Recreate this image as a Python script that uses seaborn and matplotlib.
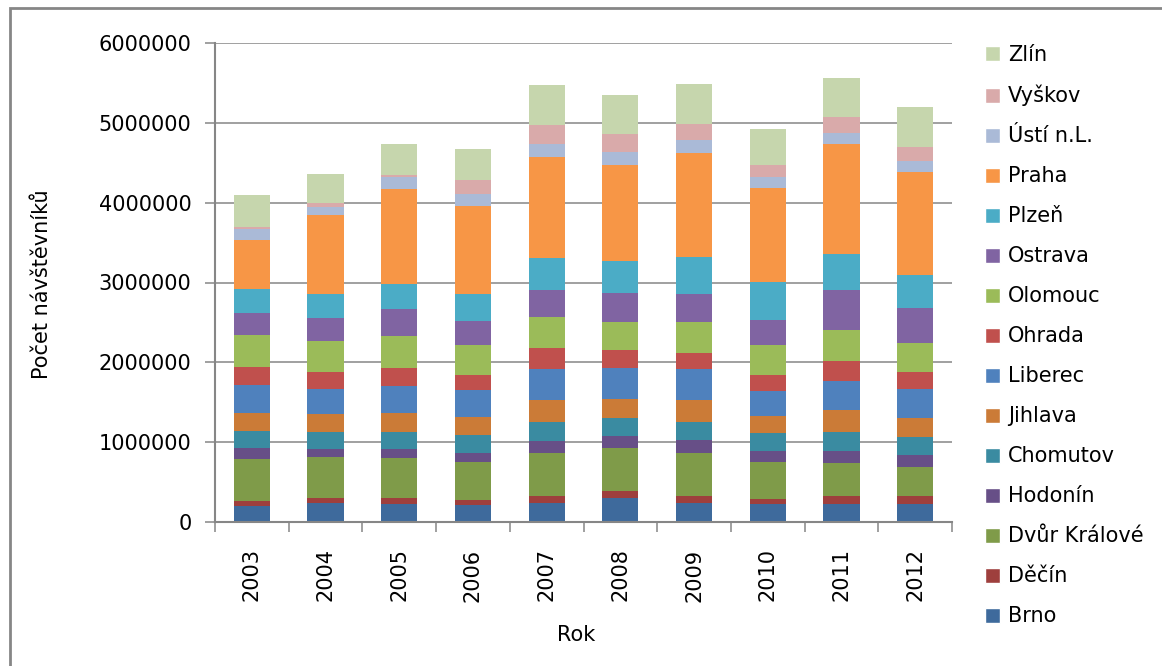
import numpy as np
import pandas as pd
import seaborn as sns
import matplotlib.pyplot as plt
from matplotlib.patches import Patch, Rectangle

# roky a mesta
roky = [str(r) for r in range(2003, 2013)]

brno = [204000, 238000, 230000, 213000, 238000, 301000, 238000, 226000, 226000, 226000]
decin = [59000, 63000, 71000, 63000, 88000, 88000, 88000, 62000, 100000, 100000]
dvur_kralove = [527000, 514000, 502000, 476000, 539000, 539000, 539000, 464000, 414000, 364000]
hodonin = [138000, 100000, 112000, 113000, 151000, 150000, 163000, 138000, 150000, 150000]
chomutov = [213000, 213000, 213000, 226000, 238000, 226000, 226000, 226000, 238000, 226000]
jihlava = [226000, 226000, 239000, 226000, 276000, 238000, 276000, 213000, 276000, 238000]
liberec = [351000, 314000, 338000, 338000, 388000, 389000, 388000, 314000, 364000, 364000]
ohrada = [226000, 213000, 226000, 188000, 264000, 226000, 201000, 200000, 251000, 213000]
olomouc = [401000, 389000, 401000, 376000, 389000, 351000, 389000, 376000, 389000, 364000]
ostrava = [276000, 288000, 339000, 301000, 338000, 363000, 351000, 314000, 501000, 438000]
plzen = [301000, 301000, 313000, 339000, 401000, 402000, 464000, 476000, 452000, 414000]
praha = [614000, 982000, 1191000, 1103000, 1267000, 1203000, 1304000, 1179000, 1379000, 1292000]
usti = [130000, 109000, 151000, 151000, 163000, 163000, 163000, 138000, 138000, 138000]
vyskov = [33000, 46000, 25000, 175000, 238000, 226000, 201000, 150000, 200000, 175000]
zlin = [401000, 368000, 389000, 389000, 502000, 489000, 501000, 452000, 489000, 502000]

mesta = ["Brno", "Děčín", "Dvůr Králové", "Hodonín", "Chomutov", "Jihlava", "Liberec",
         "Ohrada", "Olomouc", "Ostrava", "Plzeň", "Praha", "Ústí n.L.", "Vyškov", "Zlín"]
hodnoty = [brno, decin, dvur_kralove, hodonin, chomutov, jihlava, liberec,
           ohrada, olomouc, ostrava, plzen, praha, usti, vyskov, zlin]
barvy = ["#3E6A9C", "#9E3F3D", "#7F9B49", "#674F87", "#3A8BA1", "#CB7B37", "#4F81BD",
         "#C0504D", "#9BBB59", "#8064A2", "#4BACC6", "#F79646", "#AABAD7", "#D9AAAA", "#C6D6AD"]

df = pd.DataFrame(dict(zip(mesta, hodnoty)), index=roky)
kum = df.cumsum(axis=1)
kum["rok"] = roky

sns.set_style("white")
plt.rcParams["font.family"] = ["DejaVu Sans"]
plt.rcParams["text.color"] = "black"
plt.rcParams["axes.labelcolor"] = "black"
plt.rcParams["xtick.labelcolor"] = "black"
plt.rcParams["ytick.labelcolor"] = "black"
seda = "#868686"

fig = plt.figure(figsize=(11.62, 6.66), dpi=100)
ax = fig.add_axes([215 / 1162, 1 - 522 / 666, (952 - 215) / 1162, (522 - 43) / 666])

# skladane sloupce: od nejvyssiho souctu dolu
for mesto, barva in zip(mesta[::-1], barvy[::-1]):
    sns.barplot(data=kum, x="rok", y=mesto, color=barva, saturation=1,
                width=0.49, linewidth=0, errorbar=None, ax=ax)

ax.set_xlim(-0.5, 9.5)
ax.set_ylim(0, 6000000)
ax.set_yticks(np.arange(0, 6000001, 1000000))
ax.set_yticklabels([f"{int(v)}" for v in np.arange(0, 6000001, 1000000)])
ax.yaxis.grid(True, color=seda, linewidth=1.1)
ax.set_axisbelow(True)

ax.set_xticks(np.arange(-0.5, 10, 1), minor=True)
ax.tick_params(axis="x", which="major", length=0, pad=19, labelrotation=90, labelsize=15)
ax.tick_params(axis="x", which="minor", bottom=True, length=7, width=1.1, color=seda)
ax.tick_params(axis="y", left=True, length=7, width=1.1, color=seda, pad=10, labelsize=15)

for s in ["top", "right"]:
    ax.spines[s].set_visible(False)
for s in ["left", "bottom"]:
    ax.spines[s].set_color(seda)
    ax.spines[s].set_linewidth(1.5)

ax.set_xlabel("Rok", fontsize=15)
ax.set_ylabel("Počet návštěvníků", fontsize=15)
ax.xaxis.set_label_coords(0.49, -0.215)
ax.yaxis.set_label_coords(-0.221, 0.497)

# legenda
handles = [Patch(facecolor=c, label=m) for m, c in zip(mesta[::-1], barvy[::-1])]
fig.legend(handles=handles, loc="upper left", bbox_to_anchor=(985 / 1162, 1 - 45 / 666),
           frameon=False, fontsize=15, handlelength=0.7, handleheight=0.7,
           handletextpad=0.4, labelspacing=0.96, borderpad=0, borderaxespad=0)

# ramecek grafu
fig.add_artist(Rectangle((10 / 1162, -0.05), 1.1, 1 - 8 / 666 + 0.05, transform=fig.transFigure,
                         fill=False, edgecolor=seda, linewidth=2))

fig.savefig("out.png", dpi=100)
